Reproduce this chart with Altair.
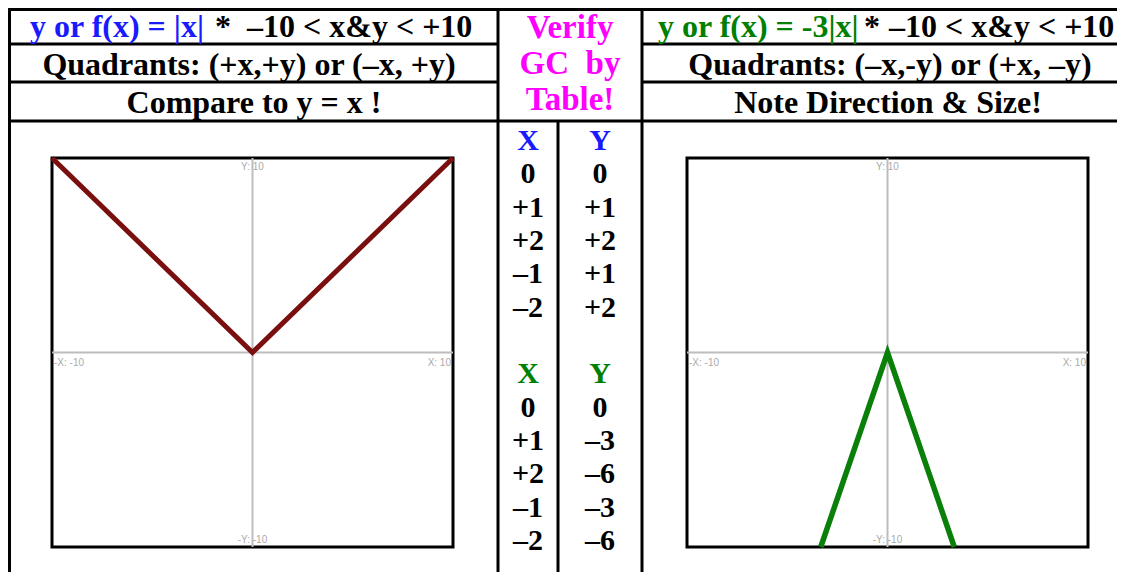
import altair as alt
import pandas as pd

FONT = "Liberation Serif"

# ---------------- data ----------------
left_fx = [-10, 0, 10]
left_fy = [10, 0, 10]
right_fx = [-3.33, 0, 3.33]
right_fy = [-10, 0, -10]

tbl1_x = ["0", "+1", "+2", "–1", "–2"]
tbl1_y = ["0", "+1", "+2", "+1", "+2"]
tbl2_x = ["0", "+1", "+2", "–1", "–2"]
tbl2_y = ["0", "–3", "–6", "–3", "–6"]
tbl_heads = ["X", "Y"]

left_title = ["y or f(x) = |x|", "*", "–10 < x&y < +10"]
left_rows = ["Quadrants: (+x,+y) or (–x, +y)", "Compare to y = x !"]
mid_title = ["Verify", "GC\u00a0 by", "Table!"]
right_title = ["y or f(x) = -3|x|", "*", "–10 < x&y < +10"]
right_rows = ["Quadrants: (–x,-y) or (+x, –y)", "Note Direction & Size!"]
plot_labels = ["Y: 10", "-X: -10", "X: 10", "-Y: -10"]

# ---------------- helpers ----------------
dummy = alt.Data(values=[{"a": 1}])
W, H = 1109, 564


def hline(y, x1, x2, w=3):
    return alt.Chart(dummy).mark_rule(color="black", strokeWidth=w).encode(
        x=alt.value(x1), x2=alt.value(x2), y=alt.value(y))


def vline(x, y1, y2, w=3):
    return alt.Chart(dummy).mark_rule(color="black", strokeWidth=w).encode(
        x=alt.value(x), y=alt.value(y1), y2=alt.value(y2))


def txt(s, x, y, color="black", size=32, align="left"):
    return alt.Chart(dummy).mark_text(
        font=FONT, fontWeight="bold", fontSize=size, align=align,
        baseline="alphabetic", color=color
    ).encode(x=alt.value(x), y=alt.value(y), text=alt.value(s))


def plot(xs, ys, color, sw, xr):
    df = pd.DataFrame({"x": xs, "y": ys})
    xsc = alt.Scale(domain=[-10, 10], range=xr, nice=False, zero=False)
    ysc = alt.Scale(domain=[-10, 10], range=[539, 150], nice=False, zero=False)
    base = alt.Chart(dummy)
    X = lambda v: alt.XDatum(v, type="quantitative", scale=xsc, axis=None)
    Y = lambda v: alt.YDatum(v, type="quantitative", scale=ysc, axis=None)
    frame = base.mark_rect(fill="white", stroke="black", strokeWidth=3).encode(
        x=X(-10), x2=alt.X2Datum(10), y=Y(-10), y2=alt.Y2Datum(10))
    axv = base.mark_rule(color="#bdbdbd", strokeWidth=2).encode(
        x=X(0), y=Y(-10), y2=alt.Y2Datum(10))
    axh = base.mark_rule(color="#bdbdbd", strokeWidth=2).encode(
        x=X(-10), x2=alt.X2Datum(10), y=Y(0))
    lab_style = dict(font="Liberation Sans", fontSize=10, color="#aaaaaa", baseline="middle")
    l1 = base.mark_text(align="center", dy=9, **lab_style).encode(
        x=X(0), y=Y(10), text=alt.value(plot_labels[0]))
    l2 = base.mark_text(align="left", dx=2, dy=10, **lab_style).encode(
        x=X(-10), y=Y(0), text=alt.value(plot_labels[1]))
    l3 = base.mark_text(align="right", dx=-2, dy=10, **lab_style).encode(
        x=X(10), y=Y(0), text=alt.value(plot_labels[2]))
    l4 = base.mark_text(align="center", dy=-7, **lab_style).encode(
        x=X(0), y=Y(-10), text=alt.value(plot_labels[3]))
    line = alt.Chart(df).mark_line(color=color, strokeWidth=sw).encode(
        x=alt.X("x:Q", scale=xsc, axis=None),
        y=alt.Y("y:Q", scale=ysc, axis=None))
    return alt.layer(frame, axv, axh, l1, l2, l3, l4, line)


# ---------------- middle value table ----------------
rows = []
for c, h in zip(["X", "Y"], tbl_heads):
    rows.append({"col": c, "row": 0, "text": h, "kind": "head1"})
    rows.append({"col": c, "row": 7, "text": h, "kind": "head2"})
for i, (a, b) in enumerate(zip(tbl1_x, tbl1_y)):
    rows.append({"col": "X", "row": i + 1, "text": a, "kind": "num"})
    rows.append({"col": "Y", "row": i + 1, "text": b, "kind": "num"})
for i, (a, b) in enumerate(zip(tbl2_x, tbl2_y)):
    rows.append({"col": "X", "row": i + 8, "text": a, "kind": "num"})
    rows.append({"col": "Y", "row": i + 8, "text": b, "kind": "num"})
tdf = pd.DataFrame(rows)

table = alt.Chart(tdf).mark_text(
    font=FONT, fontWeight="bold", fontSize=30, align="center", baseline="alphabetic"
).encode(
    x=alt.X("col:N", scale=alt.Scale(type="point", domain=["X", "Y"], range=[520, 592], padding=0), axis=None),
    y=alt.Y("row:Q", scale=alt.Scale(domain=[0, 12], range=[142, 542], nice=False, zero=False), axis=None),
    text="text:N",
    color=alt.Color("kind:N", scale=alt.Scale(domain=["head1", "head2", "num"],
                                              range=["#1a1aff", "#008000", "#000000"]), legend=None),
)

# ---------------- layout grid ----------------
grid = [
    hline(1.5, 0, W),
    hline(36, 0, 490), hline(74, 0, 490),
    hline(36, 634, W), hline(74, 634, W),
    hline(113, 0, W),
    vline(1.5, 0, H), vline(490, 0, H), vline(634, 0, H), vline(550, 113, H),
]

texts = [
    txt(left_title[0], 22, 29, color="#1a1aff"),
    txt(left_title[1], 207, 29),
    txt(left_title[2], 239, 29),
    txt(left_rows[0], 241, 67, align="center"),
    txt(left_rows[1], 246, 105, align="center"),
    txt(mid_title[0], 562, 30, color="#ff00ff", size=33, align="center"),
    txt(mid_title[1], 562, 66, color="#ff00ff", size=33, align="center"),
    txt(mid_title[2], 562, 102, color="#ff00ff", size=33, align="center"),
    txt(right_title[0], 650, 29, color="#008000"),
    txt(right_title[1], 856, 29),
    txt(right_title[2], 881, 29),
    txt(right_rows[0], 882, 67, align="center"),
    txt(right_rows[1], 880, 105, align="center"),
]

left_plot = plot(left_fx, left_fy, "#7a0f0f", 5, [44, 445])
right_plot = plot(right_fx, right_fy, "#0a7f0a", 5.5, [679, 1080])

chart = alt.layer(*grid, *texts, left_plot, right_plot, table).resolve_scale(
    x="independent", y="independent", color="independent"
).properties(
    width=W, height=H, padding=0, autosize=alt.AutoSizeParams(type="none")
).configure_view(stroke=None)

chart.save("out.html", embed_options={"renderer": "svg", "actions": False})
